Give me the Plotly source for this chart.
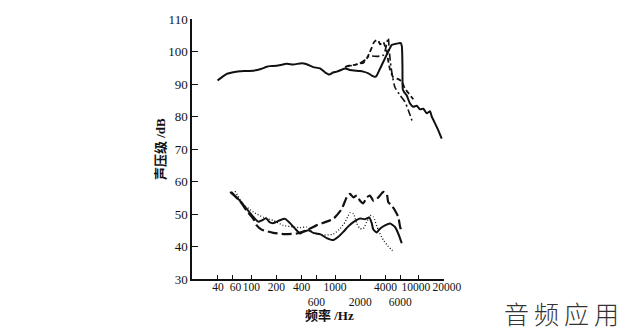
import plotly.graph_objects as go

# ---- upper group (sound pressure level, dB) ----
up_solid_hz = [39.5, 45, 51, 61, 73, 80, 106, 130, 153, 167, 201, 265, 318, 400, 460,
               551, 662, 760, 855, 960, 1050, 1200, 1320, 1510, 1990, 2180, 2500, 2750,
               3007, 3150, 3450, 3955, 4330, 4755, 5210, 5700, 6100, 6300, 6400, 6450,
               6700, 7190, 7870, 8620, 9460, 10370, 11360, 12470, 13650, 14300, 14940,
               16410, 17500, 18830]
up_solid_db = [91.1, 92.2, 93.1, 93.6, 93.9, 94.0, 94.1, 94.6, 95.3, 95.5, 95.6, 96.2, 96.0,
               96.4, 96.1, 95.2, 94.8, 93.6, 92.9, 93.6, 93.8, 94.4, 94.8, 94.3, 94.0, 93.8,
               93.3, 92.6, 92.2, 92.6, 94.7, 97.9, 100.0, 102.0, 102.3, 102.5, 102.6, 101.5,
               95.0, 88.5, 87.5, 86.5, 84.0, 83.0, 83.3, 82.2, 82.4, 81.0, 81.6, 80.0, 79.0,
               76.8, 75.2, 73.2]

up_dash_hz = [1320, 1510, 1730, 1990, 2180, 2390, 2570, 2750, 2870, 3007, 3150, 3290, 3450,
              3615, 3776, 3955, 4150, 4330, 4540, 4975, 5700, 6270, 6860, 7500, 8620]
up_dash_db = [95.2, 95.7, 95.9, 96.3, 96.5, 97.8, 99.5, 101.2, 102.5, 103.2, 103.5, 103.4,
              102.2, 102.5, 102.9, 101.7, 100.5, 97.0, 94.5, 92.0, 91.5, 90.8, 88.5, 87.3, 85.3]

up_dashdot_hz = [1320, 1510, 1730, 1990, 2280, 2500, 2750, 3150, 3450, 3780, 3955, 4150,
                 4330, 4450, 4600, 4850, 5200, 6000, 6860, 7500, 8000, 8500]
up_dashdot_db = [95.3, 95.6, 95.9, 96.4, 97.4, 98.4, 98.6, 98.5, 98.6, 98.9, 100.0, 102.5,
                 104.2, 100.5, 96.5, 92.5, 89.0, 86.5, 84.5, 82.0, 80.0, 78.0]

# ---- lower group ----
lo_solid_hz = [58, 73, 88, 106, 121, 133, 150, 167, 183, 220, 253, 290, 333, 382, 418, 480,
               551, 662, 796, 955, 1095, 1256, 1443, 1656, 1990, 2280, 2571, 2746, 2870,
               3150, 3450, 3955, 4540, 5210, 5700, 6270]
lo_solid_db = [56.7, 54.1, 51.6, 49.1, 47.6, 48.0, 48.7, 47.4, 47.2, 48.1, 48.5, 47.2, 45.5,
               44.0, 44.5, 45.0, 44.2, 43.8, 42.6, 42.0, 43.0, 44.5, 46.2, 47.5, 48.6, 48.4,
               48.9, 47.2, 45.2, 44.3, 45.5, 46.5, 47.1, 46.0, 44.0, 41.0]

lo_dash_hz = [56, 73, 88, 106, 116, 133, 183, 250, 350, 460, 600, 725, 955, 1200, 1320,
              1400, 1510, 1660, 1820, 1990, 2180, 2390, 2620, 2870, 3150, 3450, 3780, 4150,
              4330, 4760, 5210, 5700, 6000, 6270]
lo_dash_db = [56.8, 54.0, 51.0, 48.5, 46.5, 45.2, 44.2, 43.8, 44.0, 45.0, 46.5, 47.3, 48.5,
              51.5, 54.0, 55.5, 56.2, 55.1, 55.7, 54.1, 53.3, 55.1, 55.7, 54.1, 54.6, 55.7,
              56.8, 56.2, 53.6, 52.6, 51.1, 49.1, 46.0, 44.5]

lo_dot_hz = [64, 80, 106, 139, 183, 241, 318, 382, 459, 551, 725, 955, 1150, 1320, 1440,
             1510, 1660, 1820, 1990, 2180, 2390, 2620, 2870, 3290, 3780, 4330, 4750, 5000]
lo_dot_db = [57.0, 53.1, 50.6, 49.0, 48.0, 46.5, 46.0, 45.8, 46.0, 44.2, 43.5, 43.8, 45.5,
             47.5, 49.5, 50.4, 50.1, 47.1, 45.5, 45.5, 47.5, 49.6, 49.1, 45.0, 42.0, 40.0,
             39.0, 38.6]

# ---- axis ticks (600 / 2000 / 6000 sit on a second row) ----
EN = "\u2002"
x_tick_vals = [40, 60, 100, 200, 400, 600, 1000, 2000, 4000, 6000, 10000, 20000]
x_tick_text = ["40", EN + "60", "100", "200", "400", "<br>600", "1000", "<br>2000", "4000",
               "<br>6000", "10000" + EN, EN + "20000"]
y_tick_vals = [30, 40, 50, 60, 70, 80, 90, 100, 110]

INK = "#111111"
SERIF = "Liberation Serif, Noto Sans CJK SC, serif"

fig = go.Figure()


def add_curve(hz, db, dash, width):
    fig.add_trace(go.Scatter(
        x=hz, y=db, mode="lines", showlegend=False, hoverinfo="skip",
        line=dict(color=INK, width=width, dash=dash, shape="spline", smoothing=0.5),
    ))


add_curve(up_solid_hz, up_solid_db, "solid", 2.0)
add_curve(up_dash_hz, up_dash_db, "5px,3px", 1.8)
add_curve(up_dashdot_hz, up_dashdot_db, "7px,3px,2px,3px", 1.6)
add_curve(lo_solid_hz, lo_solid_db, "solid", 2.0)
add_curve(lo_dash_hz, lo_dash_db, "10px,4px", 2.2)
add_curve(lo_dot_hz, lo_dot_db, "1px,2px", 1.3)

fig.update_layout(
    width=629, height=331,
    margin=dict(l=192, r=185, t=16, b=52, pad=0),
    paper_bgcolor="white", plot_bgcolor="white",
    xaxis=dict(
        type="log", range=[1.2916, 4.3023],
        tickmode="array", tickvals=x_tick_vals, ticktext=x_tick_text,
        tickangle=0, ticklabelstandoff=-4,
        ticks="inside", ticklen=4, tickwidth=1.2, tickcolor=INK,
        showline=True, linecolor=INK, linewidth=1.5,
        showgrid=False, zeroline=False,
        tickfont=dict(family=SERIF, size=11.5, color=INK),
    ),
    yaxis=dict(
        range=[30, 110], tickmode="array", tickvals=y_tick_vals,
        ticks="inside", ticklen=6, tickwidth=1.2, tickcolor=INK,
        showline=True, linecolor=INK, linewidth=1.5,
        showgrid=False, zeroline=False,
        tickfont=dict(family=SERIF, size=13, color=INK),
    ),
    annotations=[
        dict(text="声压级 /dB", xref="paper", yref="paper", x=-0.127, y=0.5,
             textangle=-90, showarrow=False, xanchor="center", yanchor="middle",
             font=dict(family=SERIF, size=13, color=INK, weight="bold")),
        dict(text="频率 /Hz", xref="paper", yref="paper", x=0.5476, y=-0.141,
             showarrow=False, xanchor="center", yanchor="middle",
             font=dict(family=SERIF, size=13, color=INK, weight="bold")),
        dict(text="音\u2009频\u2009应\u2009用", xref="paper", yref="paper", x=1.468, y=-0.131,
             showarrow=False, xanchor="center", yanchor="middle",
             font=dict(family="Noto Sans CJK SC, sans-serif", size=25, color="#333333",
                       weight=300)),
    ],
)

fig.write_html("out.html")
